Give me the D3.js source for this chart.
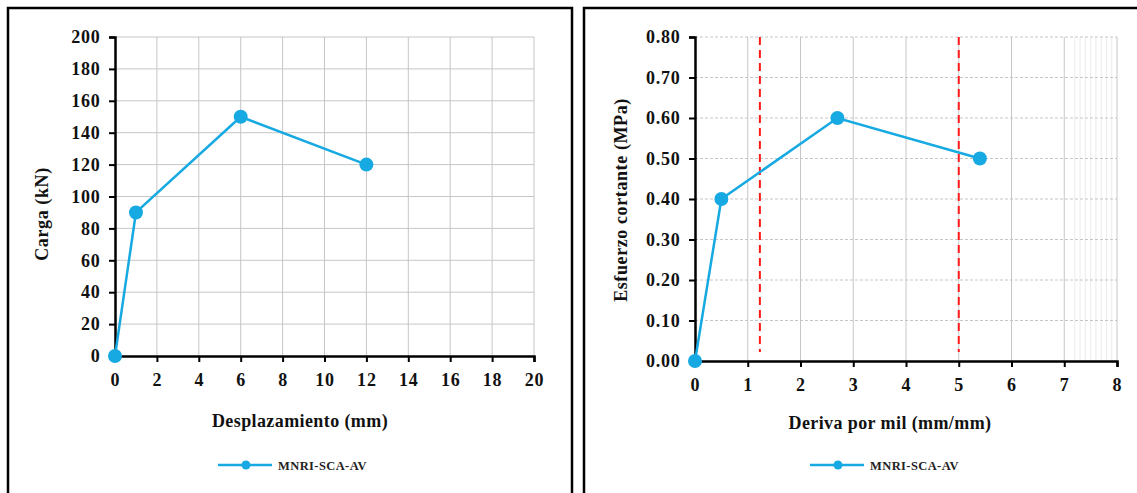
<!DOCTYPE html>
<html><head><meta charset="utf-8">
<script src="https://cdn.jsdelivr.net/npm/d3@7"></script>
<style>body{margin:0;background:#fff}svg{display:block}
svg text{font-family:"Liberation Serif","Times New Roman",serif !important;font-weight:bold}</style>
</head><body>
<svg id="c" width="1137" height="493"></svg>
<script>
// Left chart data
const leftX = [0, 1, 6, 12];
const leftY = [0, 90, 150, 120];
const leftXTicks = [0,2,4,6,8,10,12,14,16,18,20];
const leftYTicks = [0,20,40,60,80,100,120,140,160,180,200];
// Right chart data
const rightX = [0, 0.5, 2.7, 5.4];
const rightY = [0, 0.40, 0.60, 0.50];
const rightXTicks = [0,1,2,3,4,5,6,7,8];
const rightYTicks = [0,0.1,0.2,0.3,0.4,0.5,0.6,0.7,0.8];
const refLines = [1.23, 5.0];
const seriesName = "MNRI-SCA-AV";

const svg = d3.select("#c");
const BLUE = "#17a9e1";

// panel borders
svg.append("rect").attr("x",8).attr("y",8).attr("width",564).attr("height",500)
  .attr("fill","none").attr("stroke","#000").attr("stroke-width",2.5);
svg.append("rect").attr("x",584).attr("y",8).attr("width",570).attr("height",500)
  .attr("fill","none").attr("stroke","#000").attr("stroke-width",2.5);

function chart(o){
  const g = svg.append("g");
  const x = d3.scaleLinear().domain(o.xd).range([o.x0,o.x1]);
  const y = d3.scaleLinear().domain(o.yd).range([o.y0,o.y1]);
  // grid
  g.append("g").selectAll("line").data(o.xt.slice(1)).join("line")
    .attr("x1",d=>x(d)).attr("x2",d=>x(d)).attr("y1",o.y0).attr("y2",o.y1)
    .attr("stroke","#c6c6c6").attr("stroke-width",1);
  if(o.minorX){
    g.append("g").selectAll("line").data(o.minorX).join("line")
      .attr("x1",d=>x(d)).attr("x2",d=>x(d)).attr("y1",o.y0).attr("y2",o.y1)
      .attr("stroke","#e6e6e6").attr("stroke-width",0.8);
  }
  g.append("g").selectAll("line").data(o.yt.slice(1)).join("line")
    .attr("x1",o.x0).attr("x2",o.x1).attr("y1",d=>y(d)).attr("y2",d=>y(d))
    .attr("stroke","#c6c6c6").attr("stroke-width",1)
    .attr("stroke-dasharray",o.dashY?"3,2":null);
  // reference lines
  if(o.refs){
    g.append("g").selectAll("line").data(o.refs).join("line")
      .attr("x1",d=>x(d)).attr("x2",d=>x(d)).attr("y1",o.y1).attr("y2",o.y0-9)
      .attr("stroke","#ff1a1a").attr("stroke-width",2).attr("stroke-dasharray","8,5");
  }
  // axes
  const xa = g.append("g").attr("transform",`translate(0,${o.y0})`)
    .call(d3.axisBottom(x).tickValues(o.xt).tickSize(6).tickFormat(d3.format("d")));
  const ya = g.append("g").attr("transform",`translate(${o.x0},0)`)
    .call(d3.axisLeft(y).tickValues(o.yt).tickSize(6).tickFormat(o.yf));
  [xa,ya].forEach(a=>{
    a.attr("font-family",null).attr("font-size",null);
    a.select(".domain").attr("stroke","#000").attr("stroke-width",2.5);
    a.selectAll(".tick line").attr("stroke","#000").attr("stroke-width",2);
    a.selectAll("text").attr("font-size",18).attr("letter-spacing",0.8).attr("fill","#111");
  });
  xa.selectAll("text").attr("dy","1.15em");
  ya.selectAll("text").attr("dx","-0.3em");
  // series
  const pts = o.xs.map((v,i)=>[v,o.ys[i]]);
  g.append("path").datum(pts).attr("fill","none").attr("stroke",BLUE).attr("stroke-width",2.5)
    .attr("d",d3.line().x(d=>x(d[0])).y(d=>y(d[1])));
  g.append("g").selectAll("circle").data(pts).join("circle")
    .attr("cx",d=>x(d[0])).attr("cy",d=>y(d[1])).attr("r",7).attr("fill",BLUE);
  // titles
  g.append("text").attr("x",o.xtx).attr("y",o.xty).attr("text-anchor","middle")
    .attr("font-size",18).attr("letter-spacing",0.4).attr("fill","#111").text(o.xTitle);
  g.append("text").attr("transform",`translate(${o.ytx},${o.yty}) rotate(-90)`)
    .attr("text-anchor","middle").attr("font-size",18).attr("letter-spacing",0.6)
    .attr("fill","#111").text(o.yTitle);
  // legend
  g.append("line").attr("x1",o.lx).attr("x2",o.lx+54).attr("y1",465).attr("y2",465)
    .attr("stroke",BLUE).attr("stroke-width",2.5);
  g.append("circle").attr("cx",o.lx+28).attr("cy",465).attr("r",4.5).attr("fill",BLUE);
  g.append("text").attr("x",o.lx+60).attr("y",469.5)
    .attr("font-size",12.5).attr("letter-spacing",0.4).attr("fill","#222").text(seriesName);
}

chart({xd:[0,20],yd:[0,200],x0:115,x1:534,y0:356,y1:37,xt:leftXTicks,yt:leftYTicks,
  yf:d3.format("d"),xs:leftX,ys:leftY,dashY:false,
  xTitle:"Desplazamiento (mm)",xtx:300,xty:427,yTitle:"Carga (kN)",ytx:48,yty:214,lx:218});

chart({xd:[0,8],yd:[0,0.8],x0:695,x1:1117,y0:361,y1:37,xt:rightXTicks,yt:rightYTicks,
  yf:d3.format(".2f"),xs:rightX,ys:rightY,dashY:true,refs:refLines,
  minorX:[7.2,7.3,7.4,7.5,7.6,7.7,7.8,7.9],
  xTitle:"Deriva por mil (mm/mm)",xtx:890,xty:429,yTitle:"Esfuerzo cortante (MPa)",ytx:627,yty:200,lx:810});
</script>
</body></html>
